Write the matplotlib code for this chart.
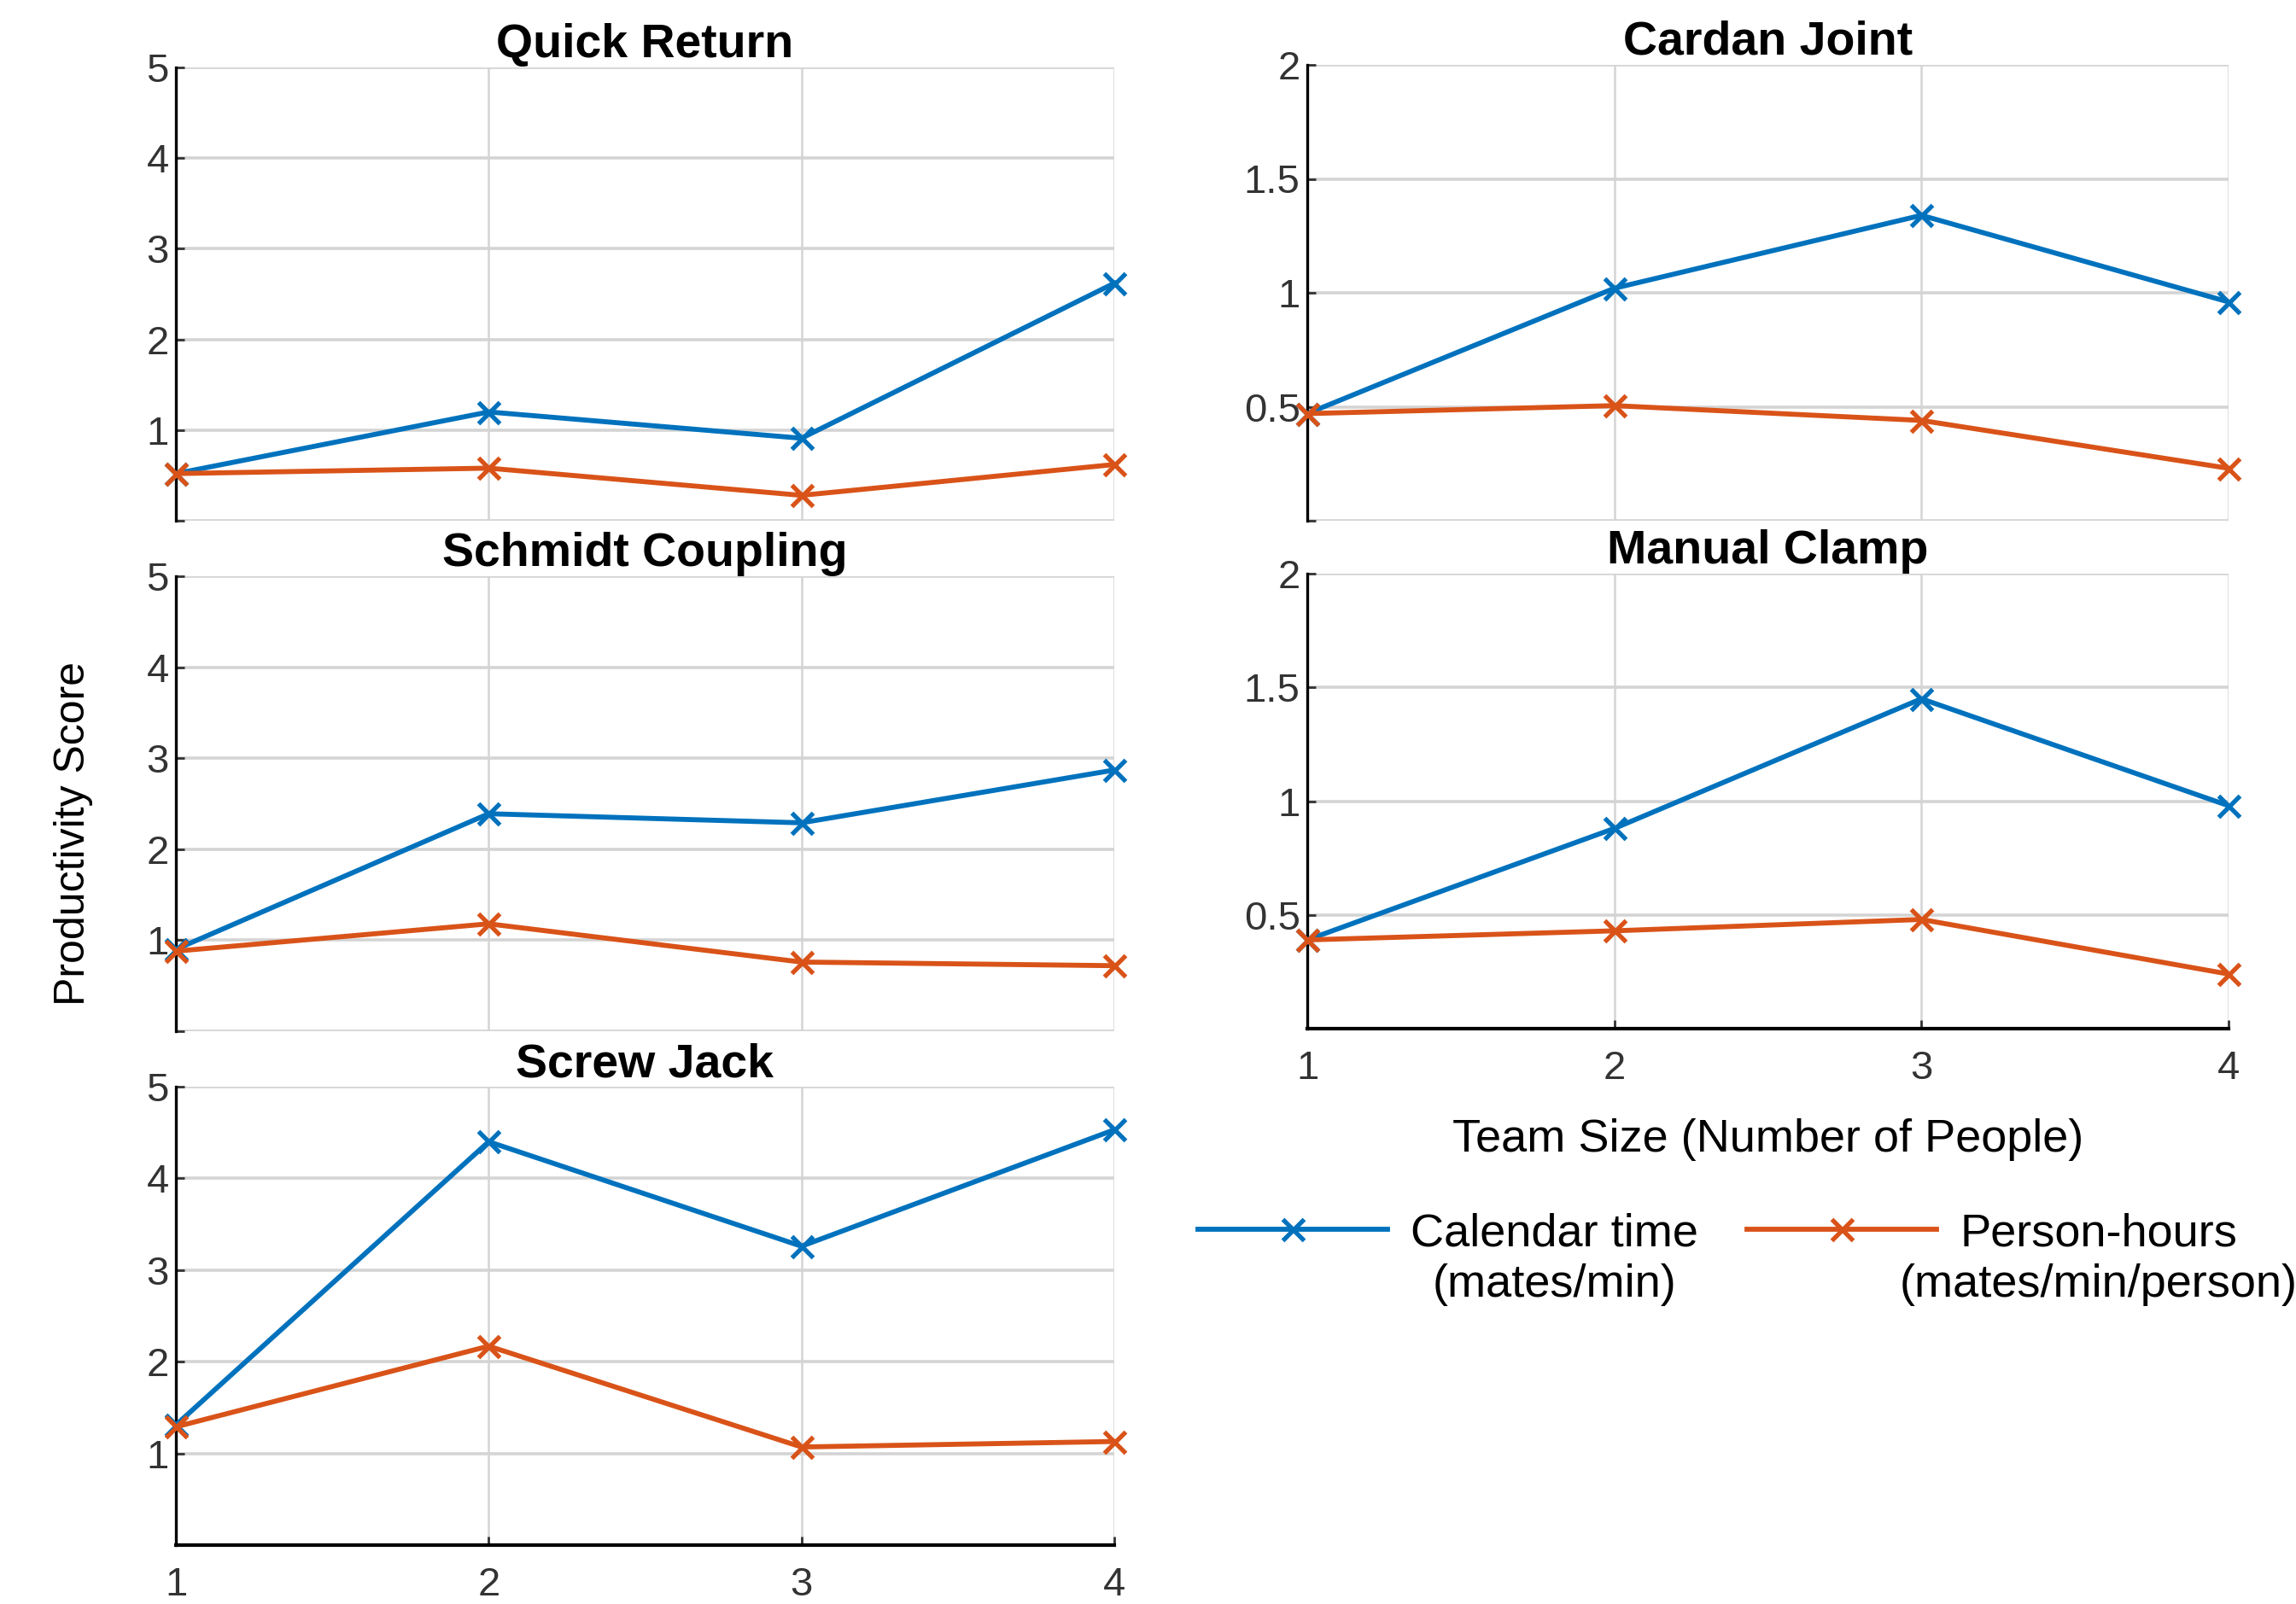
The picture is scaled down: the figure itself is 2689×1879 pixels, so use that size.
import numpy as np
import matplotlib
matplotlib.use("Agg")
import matplotlib.pyplot as plt

plt.rcParams['font.family'] = ['Liberation Sans', 'DejaVu Sans']

team_size = [1, 2, 3, 4]

quick_return_calendar = [0.52, 1.20, 0.91, 2.62]
quick_return_person = [0.52, 0.58, 0.28, 0.62]

schmidt_calendar = [0.90, 2.39, 2.29, 2.87]
schmidt_person = [0.88, 1.18, 0.76, 0.72]

screw_jack_calendar = [1.31, 4.40, 3.26, 4.53]
screw_jack_person = [1.29, 2.17, 1.07, 1.13]

cardan_calendar = [0.47, 1.02, 1.34, 0.96]
cardan_person = [0.47, 0.505, 0.44, 0.23]

clamp_calendar = [0.39, 0.88, 1.45, 0.98]
clamp_person = [0.39, 0.43, 0.48, 0.24]

left_yticks = [0, 1, 2, 3, 4, 5]
left_ylabels = ['', '1', '2', '3', '4', '5']
right_yticks = [0, 0.5, 1, 1.5, 2]
right_ylabels = ['', '0.5', '1', '1.5', '2']
xtick_labels = ['1', '2', '3', '4']

series_names = ['Calendar time', 'Person-hours']
series_units = ['(mates/min)', '(mates/min/person)']

BLUE = '#0072BD'
ORANGE = '#D95319'

W, H = 2689, 1879
fig = plt.figure(figsize=(W / 100, H / 100), dpi=100)
fig.patch.set_facecolor('white')


def make_ax(x0, ytop, x1, ybot):
    return fig.add_axes([x0 / W, 1 - ybot / H, (x1 - x0) / W, (ybot - ytop) / H])


panels = [
    ('Quick Return', make_ax(206, 79, 1305, 610), quick_return_calendar, quick_return_person, 'L', False),
    ('Schmidt Coupling', make_ax(206, 675, 1305, 1208), schmidt_calendar, schmidt_person, 'L', False),
    ('Screw Jack', make_ax(206, 1273, 1305, 1810), screw_jack_calendar, screw_jack_person, 'L', True),
    ('Cardan Joint', make_ax(1531, 76, 2610, 610), cardan_calendar, cardan_person, 'R', False),
    ('Manual Clamp', make_ax(1531, 672, 2610, 1205), clamp_calendar, clamp_person, 'R', True),
]

for title, ax, cal, per, side, bottom in panels:
    ax.set_facecolor('white')
    ax.xaxis.grid(True, color='#d4d4d4', linewidth=1.8)
    ax.yaxis.grid(True, color='#d4d4d4', linewidth=2.6)
    ax.set_axisbelow(True)
    ax.plot(team_size, cal, color=BLUE, lw=4.2, marker='x', ms=18, mew=3.8,
            clip_on=False, zorder=3, label=series_names[0])
    ax.plot(team_size, per, color=ORANGE, lw=4.2, marker='x', ms=18, mew=3.8,
            clip_on=False, zorder=3, label=series_names[1])
    ax.set_xlim(1, 4)
    ax.set_xticks(team_size)
    if side == 'L':
        ax.set_ylim(0, 5)
        ax.set_yticks(left_yticks)
        ax.set_yticklabels(left_ylabels)
    else:
        ax.set_ylim(0, 2)
        ax.set_yticks(right_yticks)
        ax.set_yticklabels(right_ylabels)
    for s in ['top', 'right']:
        ax.spines[s].set_visible(False)
    ax.spines['left'].set_color('black')
    ax.spines['left'].set_linewidth(2.4)
    ax.tick_params(axis='y', direction='in', length=7, width=2, colors='#333333',
                   labelsize=34, pad=6)
    if bottom:
        ax.spines['bottom'].set_color('black')
        ax.spines['bottom'].set_linewidth(3.0)
        ax.set_xticklabels(xtick_labels)
        ax.tick_params(axis='x', direction='in', length=7, width=2, colors='#333333',
                       labelsize=34, pad=18)
    else:
        ax.spines['bottom'].set_visible(False)
        ax.set_xticklabels([])
        ax.tick_params(axis='x', length=0)
    ax.set_title(title, fontsize=40, fontweight='bold', pad=8)

ax_clamp = panels[4][1]
ax_clamp.set_xlabel('Team Size (Number of People)', fontsize=39, labelpad=26)

fig.text(86 / W, 1 - 976 / H, 'Productivity Score', rotation=90, fontsize=36,
         ha='center', va='center')

handles, labels = panels[0][1].get_legend_handles_labels()
leg = fig.legend(handles, labels, loc='upper left',
                 bbox_to_anchor=(1403 / W, 1 - 1420 / H), ncol=2, frameon=False,
                 fontsize=39, numpoints=1, handlelength=4.1, handletextpad=0.5,
                 columnspacing=1.05, borderpad=0, borderaxespad=0)

fig.canvas.draw()
renderer = fig.canvas.get_renderer()
for t, unit in zip(leg.get_texts(), series_units):
    bb = t.get_window_extent(renderer)
    cx = 0.5 * (bb.x0 + bb.x1)
    cy = 0.5 * (bb.y0 + bb.y1)
    fig.text(cx / W, (cy - 60) / H, unit, ha='center', va='center', fontsize=39)

fig.savefig('out.png', dpi=100, facecolor='white')
